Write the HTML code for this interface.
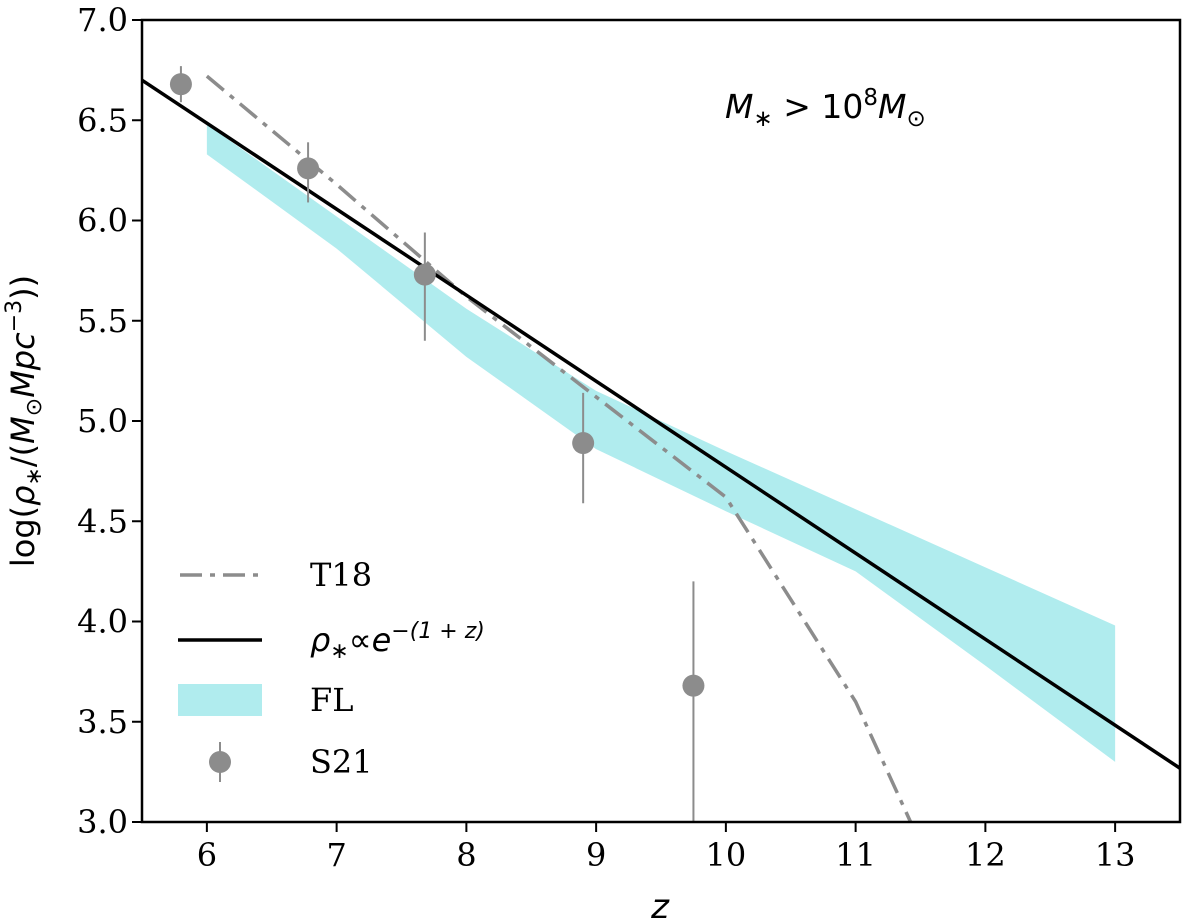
<!DOCTYPE html>
<html><head><meta charset="utf-8"><style>
body{margin:0;background:#fff}
svg{display:block}
.tk{font-family:"DejaVu Serif","Liberation Serif",serif;font-size:32px;fill:#000}
.lg{font-family:"DejaVu Serif","Liberation Serif",serif;font-size:32px;fill:#000}
.it{font-family:"DejaVu Sans","Liberation Sans",sans-serif;font-style:italic}
</style></head><body>
<svg id="chart" width="1200" height="922" viewBox="0 0 1200 922">
<g id="plot"></g>
<text x="725" y="118" class="it" font-size="33">M<tspan font-size="23" dy="8">∗</tspan><tspan dy="-8" font-style="normal"> &gt; 10</tspan><tspan font-size="23" dy="-13" font-style="normal">8</tspan><tspan dy="13">M</tspan><tspan font-size="23" dy="8" font-style="normal">⊙</tspan></text>
<text transform="translate(34,421) rotate(-90)" text-anchor="middle" font-family="DejaVu Sans, Liberation Sans, sans-serif" font-size="32">log(<tspan font-style="italic">ρ</tspan><tspan font-size="22" dy="7">∗</tspan><tspan dy="-7">/(</tspan><tspan font-style="italic">M</tspan><tspan font-size="22" dy="7">⊙</tspan><tspan dy="-7" font-style="italic">Mpc</tspan><tspan font-size="22" dy="-13">−3</tspan><tspan dy="13">))</tspan></text>
<text x="660" y="918" text-anchor="middle" class="it" font-size="34">z</text>
<g>
<line x1="180" y1="575" x2="262" y2="575" stroke="#8c8c8c" stroke-width="3.5" stroke-dasharray="22,8,5,8"/>
<text x="310" y="586" class="lg">T18</text>
<line x1="178" y1="640" x2="262" y2="640" stroke="#000" stroke-width="3.5"/>
<text x="310" y="651" class="it" font-size="32">ρ<tspan font-size="22" dy="7">∗</tspan><tspan dy="-7" font-style="normal">∝</tspan>e<tspan font-size="22" dy="-13">−(1 + z)</tspan></text>
<rect x="178" y="684" width="84" height="32" fill="#b0ecee"/>
<text x="310" y="711" class="lg">FL</text>
<line x1="220" y1="742" x2="220" y2="782" stroke="#8c8c8c" stroke-width="2"/>
<circle cx="220" cy="762" r="11" fill="#8c8c8c"/>
<text x="310" y="773" class="lg">S21</text>
</g>
</svg>
<script>
const xTicks=[6,7,8,9,10,11,12,13];
const yTicks=[3.0,3.5,4.0,4.5,5.0,5.5,6.0,6.5,7.0];
const flZ=[6,7,8,9,10,11,12,13];
const flUpper=[6.48,6.02,5.56,5.15,4.85,4.56,4.27,3.98];
const flLower=[6.33,5.86,5.32,4.86,4.55,4.25,3.78,3.3];
const t18Z=[6,7,8,9,10,11,11.6];
const t18Y=[6.72,6.18,5.62,5.12,4.62,3.6,2.75];
const fitZ=[5.5,13.5];
const fitNorm=9.4885;
const fitSlope=0.429;
const s21Z=[5.8,6.78,7.68,8.9,9.75];
const s21Y=[6.68,6.26,5.73,4.89,3.68];
const s21ErrUp=[0.09,0.13,0.21,0.25,0.52];
const s21ErrDn=[0.09,0.17,0.33,0.30,0.8];
const L=142,R=1180,T=20,B=822,X0=5.5,X1=13.5,Y0=3,Y1=7;
const sx=v=>L+(v-X0)/(X1-X0)*(R-L), sy=v=>B-(v-Y0)/(Y1-Y0)*(B-T);
const NS='http://www.w3.org/2000/svg', g=document.getElementById('plot');
function mk(t,a){const e=document.createElementNS(NS,t);for(const k in a)e.setAttribute(k,a[k]);g.appendChild(e);return e;}
const defs=mk('defs',{});const cp=document.createElementNS(NS,'clipPath');cp.setAttribute('id','c');
const cr=document.createElementNS(NS,'rect');cr.setAttribute('x',L);cr.setAttribute('y',T);cr.setAttribute('width',R-L);cr.setAttribute('height',B-T);cp.appendChild(cr);defs.appendChild(cp);
let pts=flZ.map((z,i)=>sx(z)+','+sy(flUpper[i])).concat(flZ.slice().reverse().map((z,j)=>sx(z)+','+sy(flLower[flZ.length-1-j])));
const band=mk('polygon',{points:pts.join(' '),fill:'#b0ecee','clip-path':'url(#c)'});


const t18=mk('polyline',{points:t18Z.map((z,i)=>sx(z)+','+sy(t18Y[i])).join(' '),fill:'none',stroke:'#8c8c8c','stroke-width':3.5,'stroke-dasharray':'22,8,5,8','clip-path':'url(#c)'});


const fit=mk('polyline',{points:fitZ.map(z=>sx(z)+','+sy(fitNorm-fitSlope*(1+z))).join(' '),fill:'none',stroke:'#000','stroke-width':3.5,'clip-path':'url(#c)'});


s21Z.forEach((z,i)=>{
 const eb=mk('line',{x1:sx(z),x2:sx(z),y1:sy(s21Y[i]+s21ErrUp[i]),y2:sy(s21Y[i]-s21ErrDn[i]),stroke:'#8c8c8c','stroke-width':2,'clip-path':'url(#c)'});
 
 
 const c=mk('circle',{cx:sx(z),cy:sy(s21Y[i]),r:11,fill:'#8c8c8c'});
 
 
});
const fr=mk('rect',{x:L,y:T,width:R-L,height:B-T,fill:'none',stroke:'#000','stroke-width':2.5});


xTicks.forEach(v=>{
 const t=mk('line',{x1:sx(v),x2:sx(v),y1:B,y2:B+10,stroke:'#000','stroke-width':2});
 
 
 const l=mk('text',{x:sx(v),y:B+44,'text-anchor':'middle',class:'tk'});l.textContent=v;
 
 
});
yTicks.forEach(v=>{
 const t=mk('line',{x1:L-10,x2:L,y1:sy(v),y2:sy(v),stroke:'#000','stroke-width':2});
 
 
 const l=mk('text',{x:L-14,y:sy(v)+11,'text-anchor':'end',class:'tk'});l.textContent=v.toFixed(1);
 
 
});
</script>
</body></html>
